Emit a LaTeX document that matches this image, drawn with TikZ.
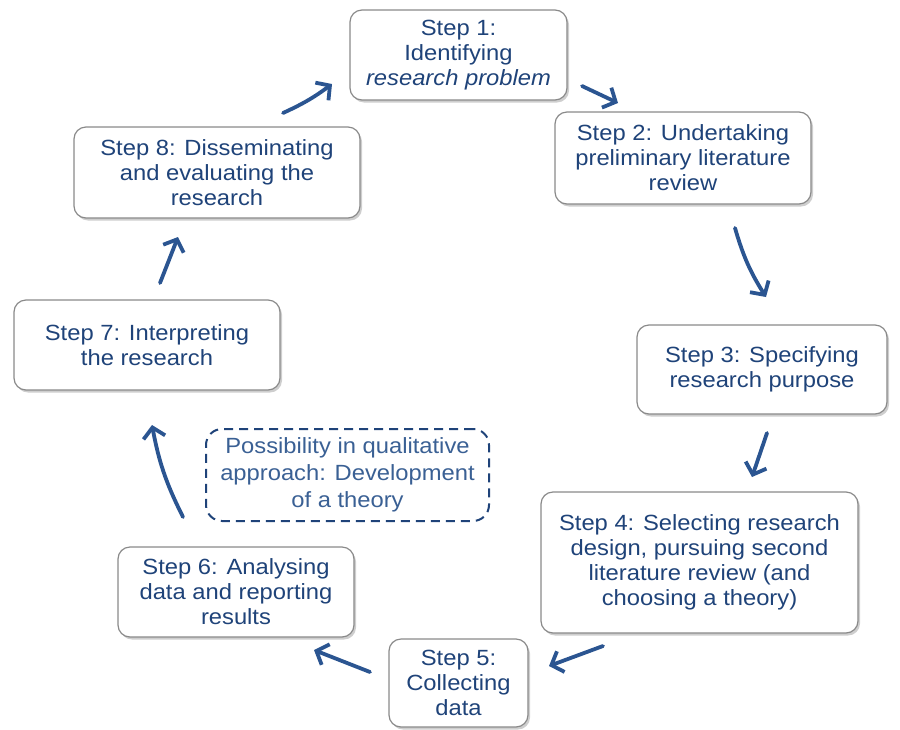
\documentclass[tikz,border=0pt]{standalone}
\usepackage{fontspec}
\setmainfont[FakeStretch=1.08]{Liberation Sans}
\usetikzlibrary{arrows.meta,shadows}
\definecolor{txt}{HTML}{1F4379}
\definecolor{arr}{HTML}{2B5591}
\definecolor{dtxt}{HTML}{3A6094}
\definecolor{bord}{HTML}{8A8A8A}
\tikzset{
  stepbox/.style={draw=bord, line width=1.2pt, rounded corners=12pt, fill=white,
    drop shadow={shadow xshift=2pt, shadow yshift=-2.5pt, fill=gray!55, opacity=0.7},
    text=txt, align=center, font=\fontsize{22}{25}\selectfont, inner sep=0pt},
  dashbox/.style={draw=txt, line width=2pt, dash pattern=on 9pt off 6pt, rounded corners=16pt,
    text=dtxt, align=center, font=\fontsize{22}{27}\selectfont, inner sep=0pt},
  flow/.style={draw=arr, line width=3.8pt, line cap=round,
    -{Straight Barb[length=10pt,width=22pt,line width=3.8pt]}}
}
\begin{document}
\begin{tikzpicture}[x=1pt,y=-1pt]
\useasboundingbox (0,0) rectangle (900,729);
\node[stepbox, minimum width=217pt, minimum height=90pt] (b1) at (458.5,55) {Step 1:\\Identifying\\\textit{research problem}};
\node[stepbox, minimum width=256pt, minimum height=92pt] (b2) at (683,158) {Step 2: Undertaking\\preliminary literature\\review};
\node[stepbox, minimum width=250pt, minimum height=89pt] (b3) at (762,369.5) {Step 3: Specifying\\research purpose};
\node[stepbox, minimum width=317pt, minimum height=141pt] (b4) at (699.5,562.5) {Step 4: Selecting research\\design, pursuing second\\literature review (and\\choosing a theory)};
\node[stepbox, minimum width=139pt, minimum height=88pt] (b5) at (458.5,683) {Step 5:\\Collecting\\data};
\node[stepbox, minimum width=236pt, minimum height=90pt] (b6) at (236,592) {Step 6: Analysing\\data and reporting\\results};
\node[stepbox, minimum width=266pt, minimum height=90pt] (b7) at (147,345) {Step 7: Interpreting\\the research};
\node[stepbox, minimum width=286pt, minimum height=91pt] (b8) at (217,172.5) {Step 8: Disseminating\\and evaluating the\\research};
\node[dashbox, minimum width=283pt, minimum height=92pt] (d) at (347.5,475) {\raisebox{0pt}{Possibility in qualitative}\\approach: Development\\of a theory};

\coordinate (a1s) at (283,113); \coordinate (a1e) at (332,84);
\coordinate (a2s) at (582,86); \coordinate (a2e) at (618,103);
\coordinate (a3s) at (735,228); \coordinate (a3e) at (766,297);
\coordinate (a4s) at (767,433); \coordinate (a4e) at (752,477);
\coordinate (a5s) at (603,646); \coordinate (a5e) at (549,666);
\coordinate (a6s) at (370,672); \coordinate (a6e) at (314,650);
\coordinate (a7s) at (183,517); \coordinate (a7e) at (152,425);
\coordinate (a8s) at (160,283); \coordinate (a8e) at (178,237);

\draw[flow] (a1s) to[bend right=6] (a1e);
\draw[flow] (a2s) -- (a2e);
\draw[flow] (a3s) to[bend right=8] (a3e);
\draw[flow] (a4s) -- (a4e);
\draw[flow] (a5s) -- (a5e);
\draw[flow] (a6s) -- (a6e);
\draw[flow] (a7s) to[bend left=8] (a7e);
\draw[flow] (a8s) -- (a8e);
\end{tikzpicture}
\end{document}
